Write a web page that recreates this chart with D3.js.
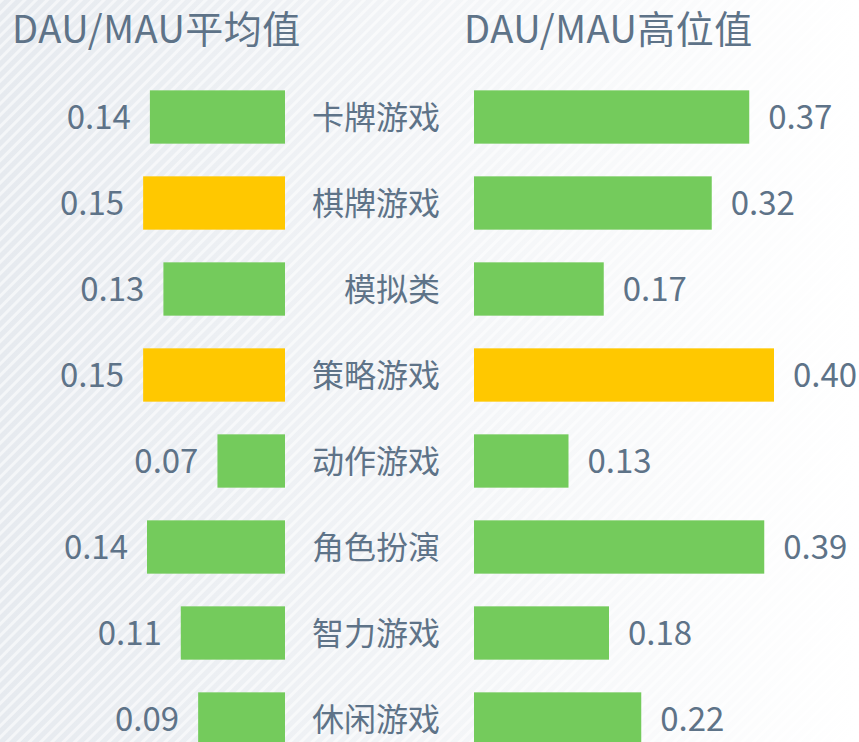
<!DOCTYPE html>
<html>
<head>
<meta charset="utf-8">
<script src="https://cdn.jsdelivr.net/npm/d3@7"></script>
<style>
  body { margin: 0; padding: 0; overflow: hidden; }
  svg { display: block; }
</style>
</head>
<body>
<div id="chart"></div>
<script>
// data
const categories = ["卡牌游戏", "棋牌游戏", "模拟类", "策略游戏", "动作游戏", "角色扮演", "智力游戏", "休闲游戏"];
const avgValues = [0.140, 0.147, 0.126, 0.147, 0.070, 0.143, 0.108, 0.090];
const highValues = [0.367, 0.317, 0.173, 0.400, 0.126, 0.387, 0.180, 0.223];
const avgHighlighted = ["棋牌游戏", "策略游戏"];
const highHighlighted = ["策略游戏"];
const titles = ["DAU/MAU平均值", "DAU/MAU高位值"];

const width = 859;
const height = 742;
const textColor = "#5e7388";
const green = "#74cb5c";
const yellow = "#ffc800";
const font = "'Noto Sans CJK SC', 'Noto Sans', sans-serif";

const svg = d3.select("#chart")
  .append("svg")
  .attr("width", width)
  .attr("height", height);

// background: soft gradient with diagonal stripes
const defs = svg.append("defs");
const grad = defs.append("linearGradient").attr("id", "bg").attr("x1", 0).attr("x2", 1).attr("y1", 0).attr("y2", 0);
grad.append("stop").attr("offset", "0%").attr("stop-color", "#e6eaef");
grad.append("stop").attr("offset", "100%").attr("stop-color", "#ffffff");

const pat = defs.append("pattern")
  .attr("id", "stripes")
  .attr("width", 8)
  .attr("height", 8)
  .attr("patternUnits", "userSpaceOnUse")
  .attr("patternTransform", "rotate(45)");
pat.append("rect").attr("width", 3).attr("height", 8).attr("fill", "#ffffff").attr("opacity", 0.55);

svg.append("rect").attr("width", width).attr("height", height).attr("fill", "url(#bg)");
svg.append("rect").attr("width", width).attr("height", height).attr("fill", "url(#stripes)");

// rows
const y = d3.scaleBand()
  .domain(categories)
  .range([74, 762])
  .paddingInner(0.38)
  .paddingOuter(0.19);

// left side grows leftwards from x=285
const leftEdge = 285;
const xLeft = d3.scaleLinear().domain([0, 0.1]).range([0, 96.5]);
// right side grows rightwards from x=474
const rightEdge = 474;
const xRight = d3.scaleLinear().domain([0, 0.1]).range([0, 75]);

// titles
svg.append("text")
  .attr("x", 12)
  .attr("y", 43)
  .style("font-family", font)
  .style("font-size", "38px")
  .style("letter-spacing", "0.5px")
  .style("fill", textColor)
  .text(titles[0]);

svg.append("text")
  .attr("x", 464)
  .attr("y", 43)
  .style("font-family", font)
  .style("font-size", "38px")
  .style("letter-spacing", "0.5px")
  .style("fill", textColor)
  .text(titles[1]);

// left bars
svg.selectAll(".bar-left")
  .data(categories)
  .enter()
  .append("rect")
  .attr("class", "bar-left")
  .attr("x", (d, i) => leftEdge - xLeft(avgValues[i]))
  .attr("y", (d) => y(d))
  .attr("width", (d, i) => xLeft(avgValues[i]))
  .attr("height", y.bandwidth())
  .style("fill", (d) => avgHighlighted.includes(d) ? yellow : green);

svg.selectAll(".label-left")
  .data(categories)
  .enter()
  .append("text")
  .attr("class", "label-left")
  .attr("x", (d, i) => leftEdge - xLeft(avgValues[i]) - 19)
  .attr("y", (d) => y(d) + y.bandwidth() / 2)
  .attr("dy", "0.36em")
  .attr("text-anchor", "end")
  .style("font-family", font)
  .style("font-size", "33px")
  .style("fill", textColor)
  .text((d, i) => avgValues[i].toFixed(2));

// category names in the middle
svg.selectAll(".cat")
  .data(categories)
  .enter()
  .append("text")
  .attr("class", "cat")
  .attr("x", 440)
  .attr("y", (d) => y(d) + y.bandwidth() / 2)
  .attr("dy", "0.36em")
  .attr("text-anchor", "end")
  .style("font-family", font)
  .style("font-size", "32px")
  .style("fill", textColor)
  .text((d) => d);

// right bars
svg.selectAll(".bar-right")
  .data(categories)
  .enter()
  .append("rect")
  .attr("class", "bar-right")
  .attr("x", rightEdge)
  .attr("y", (d) => y(d))
  .attr("width", (d, i) => xRight(highValues[i]))
  .attr("height", y.bandwidth())
  .style("fill", (d) => highHighlighted.includes(d) ? yellow : green);

svg.selectAll(".label-right")
  .data(categories)
  .enter()
  .append("text")
  .attr("class", "label-right")
  .attr("x", (d, i) => rightEdge + xRight(highValues[i]) + 19)
  .attr("y", (d) => y(d) + y.bandwidth() / 2)
  .attr("dy", "0.36em")
  .style("font-family", font)
  .style("font-size", "33px")
  .style("fill", textColor)
  .text((d, i) => highValues[i].toFixed(2));
</script>
</body>
</html>
